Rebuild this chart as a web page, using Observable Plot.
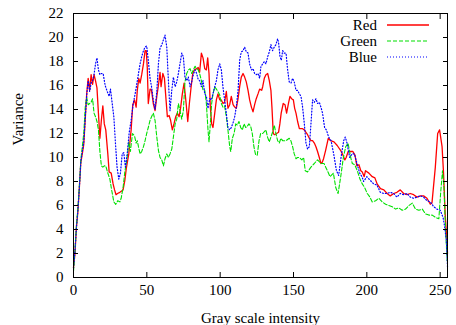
<!DOCTYPE html>
<html><head><meta charset="utf-8">
<script src="https://cdn.jsdelivr.net/npm/d3@7"></script>
<script src="https://cdn.jsdelivr.net/npm/@observablehq/plot@0.6"></script>
<style>
html,body{margin:0;padding:0;background:#fff;overflow:hidden}
#chart svg{display:block}
</style>
</head><body><div id="chart"></div>
<script>
const xTicks = [0, 50, 100, 150, 200, 250];
const yTicks = [0, 2, 4, 6, 8, 10, 12, 14, 16, 18, 20, 22];
const seriesNames = ["Red", "Green", "Blue"];
const seriesColors = ["#ff0000", "#00e000", "#0000ff"];
const seriesDash = [null, "4,2", "1,2"];
const seriesWidth = [1.3, 1.1, 1.2];

const redX = [0,1,2,3,4,5,6,7,8,9,10,11,12,13,14,15,16,17,18,19,20,21,22,23.4,24.3,25.7,27,28,29,30,31.6,33.8,35,36,37.7,39.3,40.4,41.6,42.7,43.5,44.5,45.4,46.5,47.7,48.8,49.6,50.3,51,52.2,53.2,54.4,55.6,56.8,57.9,59,59.7,60.9,62,63.1,64,65.2,66.2,67.4,68.5,69.7,70.8,72,73.1,74.2,75.4,76.8,77.9,79,80.2,81.3,82.4,84,85,86,87.2,88.3,89.5,90.6,91.5,92.4,93.3,94.2,95.1,96.3,97.4,98.5,99.7,100.8,101.9,103,104.2,105.3,106.5,107.6,108.8,109.9,111,112.2,113.3,114.4,115.6,116.7,117.8,119,120.1,121.3,122.4,123.5,124.6,125.8,126.9,128.3,129,130.1,131.2,132.4,133.5,134.6,135.3,136.2,137.1,138.5,139.8,140.7,141.6,143,144.2,145.3,146.7,147.6,148.7,149.9,150.8,151.7,152.8,154,155.1,156.2,157.4,158.5,159.6,160.8,161.9,163,164.2,165.3,166.4,167.6,168.7,169.6,170.5,171.9,173.7,175.3,177.6,179.8,182.1,183.7,185,185.9,187.3,188.9,190.5,191.9,193.2,194.6,195.9,196.9,198.2,199.1,201.4,203.7,205.5,207,209.3,211.6,213.8,216,218.3,220.5,222.8,225.1,227.4,229.6,231.9,234.2,236.5,238.7,241,243.3,244.4,246.7,248.3,249.6,251.3,252.3,253.4,254.6,255];
const redY = [0.8,2.0,4.2,5.5,7.5,9.6,10.3,11.1,13.2,15.3,16.6,15.6,16.9,16.1,16.9,16.4,15.8,13.7,11.6,13.1,14.3,12.8,12.3,10.3,8.8,8.7,7.8,7.3,6.9,7.0,7.1,7.3,8.1,9.1,10.3,12.3,14.4,14.8,14.2,15.6,16.6,16.2,16.9,17.8,18.9,18.9,17.5,14.5,15.7,15.6,14.5,13.9,15.1,16.0,17.1,15.9,17.0,16.6,14.8,13.4,13.5,13.1,12.3,12.8,13.4,13.7,13.4,14.2,15.3,16.2,14.5,13.0,14.5,15.9,17.0,17.3,17.4,17.5,17.1,18.7,18.3,17.4,17.3,18.3,17.0,14.2,12.8,12.5,13.7,14.8,15.3,14.8,14.8,14.5,14.6,15.5,14.1,14.4,15.1,14.4,14.2,14.1,14.9,15.9,16.7,17.0,16.7,16.3,15.6,14.8,14.2,13.8,14.4,14.9,15.3,15.7,15.6,15.9,16.6,16.9,17.0,16.4,15.6,14.2,12.0,11.9,12.0,12.1,12.8,13.7,14.5,14.4,13.7,14.6,15.1,14.9,14.8,14.1,13.7,13.0,12.4,12.4,12.4,12.3,12.1,11.9,11.6,11.4,11.4,11.2,10.9,10.5,10.0,9.5,9.6,9.9,10.6,11.6,11.4,11.3,11.0,10.6,10.2,9.8,10.0,10.5,10.5,10.5,10.2,9.3,9.4,8.9,8.8,8.4,8.9,8.7,8.4,8.3,7.8,7.4,7.3,7.0,6.8,7.0,7.1,7.3,7.0,6.9,7.0,6.9,6.7,6.8,6.8,6.6,6.1,6.2,9.2,12.0,12.3,10.9,8.7,5.3,3.1,2.0];

const greenX = [0,1,2,3,4,5,6,7,8,9,10,11,12,13,14,15,16,17,18,19,20,21,22,23.4,24.8,26,27.5,28.8,30.2,31.6,32.5,33.8,35,36.6,37.7,38.8,40.2,41.6,42.7,43.5,44.3,45.4,46.5,47.7,48.8,49.9,51,52.2,53.2,54.4,55.6,56.8,57.9,59,60.2,61.3,62.4,63.6,64.7,65.8,67,68.1,69.3,70.4,71.5,72.6,73.8,74.9,76,77.2,78.3,79.5,80.6,81.7,82.9,84,85,86,87.2,88.3,89.5,90.6,91.7,92.4,93.3,94.2,95.1,96.3,97.4,98.5,99.7,100.8,101.9,103,104.2,105.3,106.5,107.2,108.3,109.5,110.6,111.7,112.8,114,115.1,116.3,117.4,118.5,119.6,120.8,121.9,123,124.2,125.3,126.5,127.6,129,131.2,132.3,133.5,135.7,136.9,138,139.2,140.3,141.4,142.6,144.9,147.1,148.2,149.4,150.5,151.7,152.7,154,155.7,156.9,158,159.6,161.9,164.2,166.4,168.7,170.8,173.1,174.9,177.2,178.8,180.4,182.2,184,185.6,187.2,189,190.1,191.7,193.5,195.3,196.9,198.5,200.3,202.1,203.7,206,208.2,210.5,212.8,215,217.3,219.6,221.9,224.1,226.4,228.7,231,233.2,235.5,237.8,240,242.3,244.6,246.9,249.1,250.3,251.6,252.6,253.7,254.8];
const greenY = [0.5,2.2,4.3,5.8,7.6,9.8,10.9,12.0,14.2,15.0,14.4,14.5,14.6,14.9,13.7,13.4,13.0,12.3,10.5,9.3,9.2,9.3,9.3,8.7,8.2,7.3,6.3,6.1,6.4,6.3,6.6,7.5,8.8,10.0,11.3,10.5,12.0,11.8,11.2,11.4,10.9,10.3,10.5,10.9,11.4,12.0,12.5,13.1,13.4,13.7,13.1,11.7,10.6,10.0,9.8,9.3,9.9,10.3,10.0,10.3,10.7,11.7,12.8,13.2,14.5,13.9,13.2,13.9,16.3,17.0,17.3,17.4,17.0,17.3,17.6,17.4,17.3,17.0,16.4,15.6,15.6,14.5,12.3,11.3,12.8,14.5,15.3,15.9,15.7,15.5,15.2,14.5,14.2,14.3,13.4,12.3,10.9,10.5,11.6,12.0,12.8,12.7,13.0,12.5,12.3,12.8,12.5,12.6,12.8,12.6,12.0,10.9,10.2,10.2,11.4,12.0,12.0,12.3,11.7,11.3,12.1,12.7,12.0,11.4,11.2,11.6,11.4,11.4,11.6,11.4,10.9,10.3,9.9,10.0,10.0,9.8,10.0,8.9,8.8,9.2,9.5,9.8,9.5,9.5,8.9,8.4,8.7,7.5,7.0,8.4,10.0,10.9,11.2,10.0,9.5,9.4,8.9,8.2,7.8,7.5,7.0,6.7,6.3,6.4,6.6,6.3,6.1,6.0,5.9,5.7,5.8,5.6,5.7,6.0,6.2,5.7,5.6,5.7,5.3,5.2,5.2,5.0,4.9,7.0,8.9,7.5,3.9,1.4];

const blueX = [0,1,2,3,4,5,6,7,8,9,10,11,12,13,14,15,16,17,18,19,20.2,21.6,23,24.3,25.2,26.1,27.5,28.6,29.7,30.9,32,33.2,34.3,35.4,36.6,38,39.3,40.6,42,43,44.3,45.4,46.5,47.7,48.8,49.9,51,52.2,53.2,54.4,55.6,56.8,57.9,59,60.2,61.3,62.4,63.6,64.7,65.8,67,68.1,69.3,70.4,71.5,72.6,73.8,74.9,76,77.2,78.3,79.5,80.6,81.7,82.9,84,85,86,87.2,88.3,89.5,90.6,91.7,92.9,94,95.1,96.3,97.4,98.5,99.7,100.8,101.9,103,104.2,105.3,106.5,107.6,108.8,109.9,111,112.2,113.3,114.4,115.6,116.7,117.8,119,120.1,121.3,122.4,123.5,124.6,125.8,126.9,127.8,129,130.1,131.2,132.4,133.5,134.6,135.7,136.9,138,139.2,139.9,140.8,141.7,142.6,143.7,144.9,146,147.1,148.3,149.4,150.5,151.7,152.8,154,155.1,156.2,157.4,158.5,159.6,160.8,161.9,163,164.2,165.3,166.4,167.6,168.7,169.8,171.2,172.4,174,175.6,177.4,179.3,180.8,182.4,184.2,185.3,186.5,188.3,189.9,191.5,193.3,195.1,196.7,197.8,200,202.3,204.6,206.9,209.2,211.5,213.7,216,218.3,220.5,222.8,225.1,227.4,229.6,231.9,234.2,236.5,238.7,241,243.3,245.6,247.8,250.1,252,253.1,254.2,255];
const blueY = [0.8,2.2,4.2,5.6,7.5,9.7,10.5,11.3,13.3,15.2,16.4,15.5,16.2,16.4,16.9,17.8,18.3,17.3,16.9,17.0,17.0,16.0,15.5,15.1,15.7,14.8,13.4,11.2,9.2,8.2,8.7,10.3,10.4,9.2,10.3,12.1,13.1,14.4,15.3,16.0,17.0,17.8,18.4,18.9,19.2,19.3,18.1,16.6,15.9,14.8,14.0,15.5,17.8,19.1,19.4,19.8,20.2,19.2,16.4,13.9,15.6,16.7,15.9,16.3,17.0,17.8,18.7,18.4,16.7,16.4,16.7,15.9,16.3,16.9,17.3,17.0,16.5,16.4,15.9,16.4,15.3,15.1,14.1,14.9,14.8,15.3,15.9,16.4,17.3,17.8,17.3,15.9,14.8,13.7,12.5,12.3,12.5,12.9,13.4,14.2,15.6,18.1,18.8,18.9,19.2,18.8,18.7,17.8,17.3,17.4,17.0,16.9,17.0,16.6,17.6,17.8,18.0,17.8,18.4,18.8,19.4,18.9,19.2,19.4,19.9,19.5,18.4,18.1,18.9,18.7,18.7,17.3,16.3,16.2,16.6,16.3,15.6,15.6,15.3,15.1,14.2,12.8,11.2,10.7,10.9,12.8,14.8,14.6,14.9,14.5,14.6,14.2,13.7,12.5,12.3,11.7,11.4,10.3,8.9,8.5,10.0,11.4,11.7,11.2,10.0,10.3,10.3,9.5,8.7,8.4,8.0,8.4,8.1,7.8,7.7,7.1,7.0,7.0,7.1,7.0,6.7,7.0,6.9,7.0,6.7,6.6,6.7,6.8,6.7,6.4,6.3,5.9,5.7,5.6,5.0,4.2,3.1,0.9];

const font = "'Liberation Serif', 'DejaVu Serif', serif";
const toRows = (xs, ys) => xs.map((x, i) => ({x, y: ys[i]}));
const seriesData = [toRows(redX, redY), toRows(greenX, greenY), toRows(blueX, blueY)];
const noLabel = () => "";

const W = 456, H = 325;
const plot = Plot.plot({
  width: W, height: H,
  marginLeft: 73, marginRight: 9, marginTop: 13, marginBottom: 48,
  style: {fontFamily: font, fontSize: "15px", background: "#fff", color: "#000"},
  x: {domain: [0, 255]},
  y: {domain: [0, 22]},
  marks: [
    ...seriesData.map((d, i) => Plot.line(d, {
      x: "x", y: "y", stroke: seriesColors[i], strokeWidth: seriesWidth[i],
      strokeDasharray: seriesDash[i]
    })),
    Plot.axisX({anchor: "bottom", ticks: xTicks, tickSize: -5, tickPadding: 12, label: null, fontSize: 15}),
    Plot.axisX({anchor: "top", ticks: xTicks, tickSize: -5, tickFormat: noLabel, label: null}),
    Plot.axisY({anchor: "left", ticks: yTicks, tickSize: -5, tickPadding: 15, label: null, fontSize: 15}),
    Plot.axisY({anchor: "right", ticks: yTicks, tickSize: -5, tickFormat: noLabel, label: null}),
    Plot.frame({stroke: "#000", strokeWidth: 1}),
    Plot.text(["Gray scale intensity"], {frameAnchor: "bottom", dy: 41, fontSize: 15, lineAnchor: "middle"}),
    Plot.text(["Variance"], {frameAnchor: "left", dx: -55, rotate: -90, fontSize: 15, lineAnchor: "middle"})
  ]
});
document.getElementById("chart").appendChild(plot);

// legend (gnuplot style, top-right inside the frame)
const svg = d3.select(plot);
const lg = svg.append("g").attr("font-family", font).attr("font-size", 15);
seriesNames.forEach((name, i) => {
  const cy = 25 + i * 16;
  lg.append("text").attr("x", 377).attr("y", cy).attr("dy", "0.35em")
    .attr("text-anchor", "end").attr("fill", "#000").text(name);
  lg.append("line").attr("x1", 387).attr("x2", 429).attr("y1", cy).attr("y2", cy)
    .attr("stroke", seriesColors[i]).attr("stroke-width", seriesWidth[i])
    .attr("stroke-dasharray", seriesDash[i]);
});
</script>
</body></html>
